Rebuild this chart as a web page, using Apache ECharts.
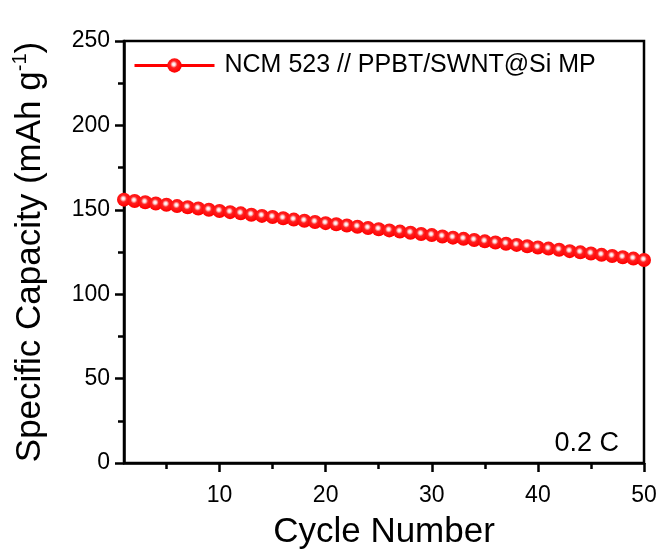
<!DOCTYPE html>
<html>
<head>
<meta charset="utf-8">
<script src="https://cdn.jsdelivr.net/npm/echarts@6/dist/echarts.min.js"></script>
<style>
html,body{margin:0;padding:0;background:#fff;}
#chart{width:664px;height:556px;}
</style>
</head>
<body>
<div id="chart"></div>
<script>
var cycles = [1,2,3,4,5,6,7,8,9,10,11,12,13,14,15,16,17,18,19,20,21,22,23,24,25,26,27,28,29,30,31,32,33,34,35,36,37,38,39,40,41,42,43,44,45,46,47,48,49,50];
var capacity = [
  156.0,155.2,154.5,153.7,153.0,152.2,151.5,150.8,150.0,149.3,
  148.6,147.9,147.1,146.4,145.7,145.0,144.2,143.5,142.8,142.1,
  141.4,140.7,140.0,139.2,138.5,137.8,137.1,136.4,135.7,135.0,
  134.2,133.5,132.8,132.1,131.3,130.6,129.9,129.2,128.4,127.7,
  127.0,126.3,125.5,124.8,124.1,123.3,122.6,121.9,121.1,120.3
];
var seriesName = 'NCM 523 // PPBT/SWNT@Si MP';
var xMajorTicks = [10,20,30,40,50];
var xMinorTicks = [5,15,25,35,45];
var rateLabel = '0.2 C';

var FONT = '"Liberation Sans", Arial, Helvetica, sans-serif';
var chart = echarts.init(document.getElementById('chart'));
var markerColor = new echarts.graphic.RadialGradient(0.45, 0.42, 0.55, [
  {offset: 0, color: '#ffffff'},
  {offset: 0.18, color: '#ffe0e0'},
  {offset: 0.45, color: '#ff2020'},
  {offset: 1, color: '#ff0000'}
]);
var data = cycles.map(function(c, i){ return [c, capacity[i]]; });

chart.setOption({
  animation: false,
  backgroundColor: '#fff',
  textStyle: {fontFamily: FONT},
  grid: {left: 124, right: 20, top: 41, bottom: 93, show: true, borderColor: '#000', borderWidth: 2.5, backgroundColor: 'transparent'},
  legend: {
    left: 133, top: 53, padding: 0,
    itemWidth: 80, itemHeight: 18, itemGap: 10,
    lineStyle: {width: 3, color: '#ff0000'},
    textStyle: {fontSize: 25, color: '#000', fontFamily: FONT, padding: [0,0,0,5]},
    data: [{name: seriesName}]
  },
  xAxis: [{
    type: 'value', min: 1, max: 50,
    splitLine: {show: false},
    axisLine: {show: true, lineStyle: {color: '#000', width: 2.5}},
    axisTick: {show: true, inside: false, length: 9, lineStyle: {color: '#000', width: 2.5}, customValues: xMajorTicks},
    axisLabel: {fontSize: 23, color: '#000', fontFamily: FONT, margin: 21, customValues: xMajorTicks},
    name: 'Cycle Number', nameLocation: 'middle', nameGap: 52,
    nameTextStyle: {fontSize: 35, color: '#000', fontFamily: FONT}
  },{
    type: 'value', min: 1, max: 50, position: 'bottom', offset: 0,
    splitLine: {show: false},
    axisLine: {show: false},
    axisTick: {show: true, inside: false, length: 6, lineStyle: {color: '#000', width: 2.5}, customValues: xMinorTicks},
    axisLabel: {show: false}
  }],
  yAxis: {
    type: 'value', min: 0, max: 250, interval: 50,
    splitLine: {show: false},
    axisLine: {show: true, lineStyle: {color: '#000', width: 2.5}},
    axisTick: {show: true, inside: false, length: 9, lineStyle: {color: '#000', width: 2.5}},
    minorTick: {show: true, splitNumber: 2, length: 6, lineStyle: {color: '#000', width: 2.5}},
    axisLabel: {fontSize: 23, color: '#000', fontFamily: FONT, margin: 14},
    name: '{a|Specific Capacity (mAh g}{s|-1}{a|)}',
    nameLocation: 'middle', nameGap: 74,
    nameTextStyle: {
      color: '#000', fontFamily: FONT,
      rich: {
        a: {fontSize: 35, color: '#000', fontFamily: FONT, lineHeight: 40},
        s: {fontSize: 20, color: '#000', fontFamily: FONT, lineHeight: 40, verticalAlign: 'top', padding: [0,0,14,0]}
      }
    }
  },
  series: [{
    name: seriesName,
    type: 'line',
    xAxisIndex: 0,
    data: data,
    symbol: 'circle',
    symbolSize: 14,
    showAllSymbol: true,
    lineStyle: {color: '#ff0000', width: 3},
    itemStyle: {color: markerColor, borderWidth: 0},
    clip: true
  }],
  graphic: [{
    type: 'text', x: 619, y: 444,
    style: {text: rateLabel, fontSize: 27, fill: '#000', fontFamily: FONT, align: 'right', verticalAlign: 'middle'}
  }]
});
</script>
</body>
</html>
